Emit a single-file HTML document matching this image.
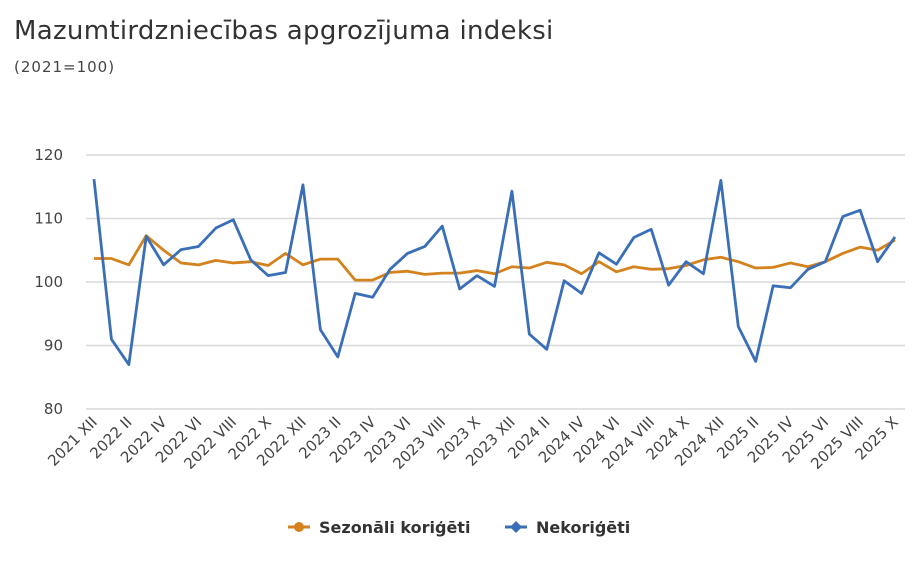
<!DOCTYPE html>
<html><head><meta charset="utf-8"><style>
body{margin:0;background:#fff;font-family:"DejaVu Sans",sans-serif;}
</style></head><body>
<svg width="918" height="570" xmlns="http://www.w3.org/2000/svg" font-family="DejaVu Sans, sans-serif">
<text x="14" y="39" font-size="26" letter-spacing="0.3" fill="#333">Mazumtirdzniecības apgrozījuma indeksi</text>
<text x="14" y="72" font-size="15" letter-spacing="1" fill="#444">(2021=100)</text>
<g id="grid"></g><g id="ylab"></g><g id="xlab"></g><g id="series"></g>
<g>
<g><line x1="288" y1="527" x2="310" y2="527" stroke="#d4821e" stroke-width="3"/><circle cx="299" cy="527" r="5" fill="#d4821e"/><text x="319" y="533" font-size="16" font-weight="bold" fill="#333">Sezonāli koriģēti</text></g>
<g><line x1="505" y1="527" x2="527" y2="527" stroke="#3a6fb8" stroke-width="3"/><path d="M516 521 L522 527 L516 533 L510 527Z" fill="#3a6fb8"/><text x="536" y="533" font-size="16" font-weight="bold" fill="#333">Nekoriģēti</text></g>
</g>
</svg>
<script>
const yTicks=[80,90,100,110,120];
const months=["XII","I","II","III","IV","V","VI","VII","VIII","IX","X","XI"];
const seasonal=[103.7,103.7,102.7,107.3,105,103,102.7,103.4,103,103.2,102.6,104.5,102.7,103.6,103.6,100.3,100.3,101.5,101.7,101.2,101.4,101.4,101.8,101.3,102.4,102.2,103.1,102.7,101.3,103.2,101.6,102.4,102,102.1,102.6,103.5,103.9,103.2,102.2,102.3,103,102.4,103.2,104.5,105.5,105,106.6];
const unadjusted=[116.2,91,87,107.2,102.7,105.1,105.6,108.5,109.8,103.5,101,101.5,115.3,92.5,88.2,98.2,97.6,102,104.5,105.6,108.8,98.9,101,99.3,114.3,91.8,89.4,100.2,98.2,104.6,102.8,107,108.3,99.5,103.2,101.3,116,93,87.5,99.4,99.1,102,103.2,110.3,111.3,103.2,107.1];
const NS="http://www.w3.org/2000/svg";
const n=seasonal.length;
const X=i=>94+i*(895-94)/(n-1);
const Y=v=>409-(v-80)*(409-155)/40;
function mk(tag,attrs,parent){const e=document.createElementNS(NS,tag);for(const k in attrs)e.setAttribute(k,attrs[k]);document.getElementById(parent).appendChild(e);return e;}
yTicks.forEach(t=>{
 const l=mk('line',{x1:86,x2:905,y1:Y(t),y2:Y(t),stroke:'#d9d9d9','stroke-width':1.5},'grid');
 
 
 const tx=mk('text',{x:63,y:Y(t)+5,'font-size':15,fill:'#444','text-anchor':'end'},'ylab');
 tx.textContent=t;
 
 
});
for(let i=0;i<n;i+=2){
 const year=2021+Math.floor((i+11)/12);
 const lab=year+' '+months[i%12];
 const x=X(i),y=423;
 const tx=mk('text',{x:x+4,y:y,'font-size':15,fill:'#444','text-anchor':'end',transform:`rotate(-45 ${x+4} ${y})`},'xlab');
 tx.textContent=lab;
 
 
}
function line(data,color,name){
 const p=mk('polyline',{points:data.map((v,i)=>X(i)+','+Y(v)).join(' '),fill:'none',stroke:color,'stroke-width':2.8,'stroke-linejoin':'round'},'series');
 
 
}
line(seasonal,'#d4821e','seasonal-line');
line(unadjusted,'#3a6fb8','unadjusted-line');
</script>
</body></html>
